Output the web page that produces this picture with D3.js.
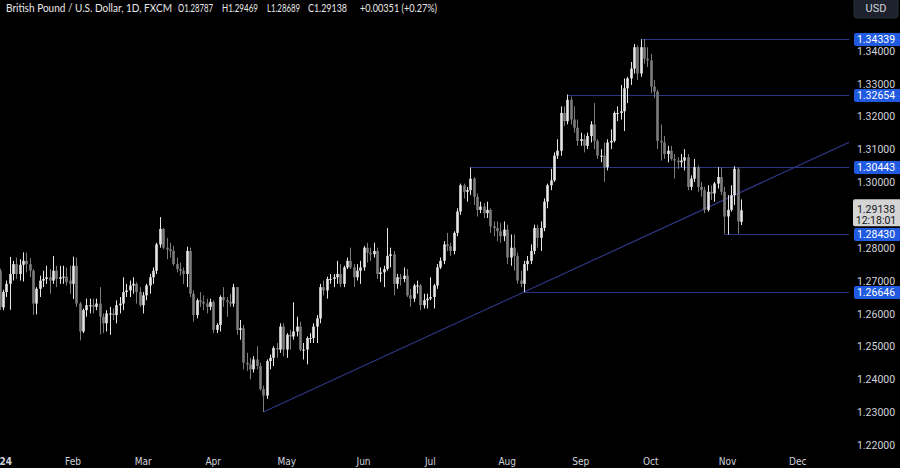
<!DOCTYPE html>
<html><head><meta charset="utf-8">
<script src="https://cdn.jsdelivr.net/npm/d3@7"></script>
<style>html,body{margin:0;padding:0;background:#000;overflow:hidden}</style>
</head><body>
<svg id="chart" width="900" height="468"></svg>
<script>
// ---------- DATA ----------
const dates = [
"2024-01-02","2024-01-03","2024-01-04","2024-01-05","2024-01-08","2024-01-09","2024-01-10","2024-01-11","2024-01-12","2024-01-15","2024-01-16","2024-01-17","2024-01-18","2024-01-19","2024-01-22","2024-01-23","2024-01-24","2024-01-25","2024-01-26","2024-01-29","2024-01-30","2024-01-31",
"2024-02-01","2024-02-02","2024-02-05","2024-02-06","2024-02-07","2024-02-08","2024-02-09","2024-02-12","2024-02-13","2024-02-14","2024-02-15","2024-02-16","2024-02-19","2024-02-20","2024-02-21","2024-02-22","2024-02-23","2024-02-26","2024-02-27","2024-02-28","2024-02-29",
"2024-03-01","2024-03-04","2024-03-05","2024-03-06","2024-03-07","2024-03-08","2024-03-11","2024-03-12","2024-03-13","2024-03-14","2024-03-15","2024-03-18","2024-03-19","2024-03-20","2024-03-21","2024-03-22","2024-03-25","2024-03-26","2024-03-27","2024-03-28","2024-03-29",
"2024-04-01","2024-04-02","2024-04-03","2024-04-04","2024-04-05","2024-04-08","2024-04-09","2024-04-10","2024-04-11","2024-04-12","2024-04-15","2024-04-16","2024-04-17","2024-04-18","2024-04-19","2024-04-22","2024-04-23","2024-04-24","2024-04-25","2024-04-26","2024-04-29","2024-04-30",
"2024-05-01","2024-05-02","2024-05-03","2024-05-06","2024-05-07","2024-05-08","2024-05-09","2024-05-10","2024-05-13","2024-05-14","2024-05-15","2024-05-16","2024-05-17","2024-05-20","2024-05-21","2024-05-22","2024-05-23","2024-05-24","2024-05-27","2024-05-28","2024-05-29","2024-05-30","2024-05-31",
"2024-06-03","2024-06-04","2024-06-05","2024-06-06","2024-06-07","2024-06-10","2024-06-11","2024-06-12","2024-06-13","2024-06-14","2024-06-17","2024-06-18","2024-06-19","2024-06-20","2024-06-21","2024-06-24","2024-06-25","2024-06-26","2024-06-27","2024-06-28",
"2024-07-01","2024-07-02","2024-07-03","2024-07-04","2024-07-05","2024-07-08","2024-07-09","2024-07-10","2024-07-11","2024-07-12","2024-07-15","2024-07-16","2024-07-17","2024-07-18","2024-07-19","2024-07-22","2024-07-23","2024-07-24","2024-07-25","2024-07-26","2024-07-29","2024-07-30","2024-07-31",
"2024-08-01","2024-08-02","2024-08-05","2024-08-06","2024-08-07","2024-08-08","2024-08-09","2024-08-12","2024-08-13","2024-08-14","2024-08-15","2024-08-16","2024-08-19","2024-08-20","2024-08-21","2024-08-22","2024-08-23","2024-08-26","2024-08-27","2024-08-28","2024-08-29","2024-08-30",
"2024-09-02","2024-09-03","2024-09-04","2024-09-05","2024-09-06","2024-09-09","2024-09-10","2024-09-11","2024-09-12","2024-09-13","2024-09-16","2024-09-17","2024-09-18","2024-09-19","2024-09-20","2024-09-23","2024-09-24","2024-09-25","2024-09-26","2024-09-27","2024-09-30",
"2024-10-01","2024-10-02","2024-10-03","2024-10-04","2024-10-07","2024-10-08","2024-10-09","2024-10-10","2024-10-11","2024-10-14","2024-10-15","2024-10-16","2024-10-17","2024-10-18","2024-10-21","2024-10-22","2024-10-23","2024-10-24","2024-10-25","2024-10-28","2024-10-29","2024-10-30","2024-10-31",
"2024-11-01","2024-11-04","2024-11-05","2024-11-06","2024-11-07"
];
const open = [
1.2730,1.2618,1.2665,1.2690,1.2720,1.2750,1.2720,1.2748,1.2760,1.2750,1.2730,1.2630,1.2675,1.2700,1.2705,1.2710,1.2700,1.2730,1.2705,1.2710,1.2712,1.2700,
1.2690,1.2745,1.2630,1.2545,1.2610,1.2625,1.2625,1.2620,1.2630,1.2590,1.2570,1.2600,1.2600,1.2595,1.2625,1.2630,1.2665,1.2670,1.2685,1.2690,1.2665,
1.2625,1.2655,1.2685,1.2710,1.2730,1.2810,1.2857,1.2800,1.2795,1.2790,1.2750,1.2735,1.2730,1.2720,1.2790,1.2660,1.2595,1.2640,1.2635,1.2630,1.2620,
1.2635,1.2550,1.2565,1.2650,1.2640,1.2635,1.2630,1.2680,1.2550,1.2555,1.2450,1.2445,1.2430,1.2460,1.2440,1.2370,1.2350,1.2455,1.2465,1.2495,1.2490,1.2560,
1.2490,1.2535,1.2530,1.2545,1.2560,1.2490,1.2490,1.2525,1.2525,1.2560,1.2585,1.2680,1.2670,1.2705,1.2705,1.2710,1.2720,1.2690,1.2740,1.2760,1.2740,1.2710,1.2730,
1.2740,1.2800,1.2785,1.2780,1.2790,1.2720,1.2725,1.2735,1.2775,1.2780,1.2690,1.2710,1.2705,1.2715,1.2655,1.2645,1.2685,1.2685,1.2625,1.2640,
1.2645,1.2650,1.2685,1.2740,1.2760,1.2810,1.2805,1.2790,1.2845,1.2910,1.2990,1.2970,1.2975,1.3010,1.2955,1.2915,1.2925,1.2905,1.2915,1.2865,1.2860,1.2850,1.2835,
1.2855,1.2770,1.2800,1.2775,1.2700,1.2690,1.2750,1.2760,1.2790,1.2860,1.2830,1.2860,1.2940,1.2990,1.3005,1.3080,1.3095,1.3210,1.3185,1.3250,1.3190,1.3165,
1.3125,1.3130,1.3110,1.3140,1.3175,1.3125,1.3080,1.3080,1.3045,1.3120,1.3125,1.3210,1.3210,1.3215,1.3285,1.3315,1.3345,1.3410,1.3330,1.3410,1.3375,
1.3370,1.3290,1.3275,1.3125,1.3120,1.3085,1.3095,1.3070,1.3065,1.3060,1.3065,1.3075,1.2985,1.3010,1.3045,1.2985,1.2975,1.2915,1.2970,1.2965,1.2995,1.3015,1.2970,
1.2895,1.2915,1.2960,1.3040,1.28787
];
const high = [
1.2736,1.2672,1.2700,1.2772,1.2760,1.2770,1.2765,1.2786,1.2785,1.2768,1.2735,1.2680,1.2715,1.2730,1.2745,1.2735,1.2775,1.2745,1.2745,1.2745,1.2740,1.2745,
1.2773,1.2770,1.2635,1.2615,1.2645,1.2645,1.2645,1.2645,1.2680,1.2600,1.2610,1.2620,1.2615,1.2640,1.2650,1.2710,1.2690,1.2700,1.2710,1.2695,1.2680,
1.2665,1.2690,1.2720,1.2740,1.2815,1.2893,1.2860,1.2830,1.2815,1.2805,1.2770,1.2755,1.2740,1.2803,1.2800,1.2670,1.2645,1.2665,1.2655,1.2645,1.2645,
1.2640,1.2570,1.2655,1.2680,1.2650,1.2660,1.2690,1.2680,1.2580,1.2565,1.2480,1.2465,1.2470,1.2500,1.2450,1.2380,1.2460,1.2475,1.2500,1.2510,1.2570,1.2570,
1.2540,1.2550,1.2634,1.2590,1.2575,1.2510,1.2530,1.2540,1.2570,1.2595,1.2690,1.2700,1.2712,1.2720,1.2720,1.2760,1.2750,1.2745,1.2770,1.2800,1.2750,1.2750,1.2760,
1.2805,1.2815,1.2800,1.2815,1.2800,1.2740,1.2745,1.2860,1.2800,1.2790,1.2720,1.2720,1.2740,1.2735,1.2675,1.2690,1.2700,1.2690,1.2660,1.2660,
1.2710,1.2690,1.2750,1.2770,1.2820,1.2845,1.2815,1.2850,1.2920,1.2995,1.2995,1.2985,1.3044,1.3015,1.2965,1.2940,1.2935,1.2940,1.2920,1.2880,1.2880,1.2875,1.2880,
1.2870,1.2840,1.2840,1.2785,1.2730,1.2760,1.2775,1.2810,1.2870,1.2870,1.2880,1.2950,1.2995,1.3040,1.3090,1.3130,1.3230,1.3230,1.3266,1.3260,1.3230,1.3190,
1.3150,1.3145,1.3150,1.3185,1.3240,1.3130,1.3100,1.3120,1.3130,1.3160,1.3215,1.3230,1.3295,1.3315,1.3320,1.3365,1.3420,1.3415,1.3434,1.3435,1.3410,
1.3390,1.3310,1.3280,1.3175,1.3140,1.3110,1.3110,1.3085,1.3075,1.3085,1.3100,1.3085,1.3020,1.3070,1.3050,1.3000,1.2985,1.2990,1.2990,1.3000,1.3045,1.3044,1.2985,
1.2960,1.2990,1.3048,1.3045,1.29469
];
const low = [
1.2610,1.2610,1.2650,1.2611,1.2700,1.2705,1.2700,1.2697,1.2725,1.2710,1.2596,1.2597,1.2650,1.2680,1.2690,1.2660,1.2690,1.2680,1.2690,1.2690,1.2685,1.2660,
1.2644,1.2620,1.2518,1.2540,1.2590,1.2600,1.2600,1.2610,1.2536,1.2540,1.2545,1.2535,1.2580,1.2570,1.2600,1.2610,1.2650,1.2650,1.2660,1.2630,1.2620,
1.2600,1.2640,1.2660,1.2690,1.2720,1.2800,1.2795,1.2765,1.2770,1.2745,1.2725,1.2715,1.2690,1.2680,1.2650,1.2575,1.2585,1.2620,1.2610,1.2600,1.2610,
1.2540,1.2540,1.2545,1.2620,1.2590,1.2620,1.2620,1.2535,1.2520,1.2430,1.2425,1.2400,1.2420,1.2430,1.2365,1.2300,1.2340,1.2430,1.2440,1.2465,1.2480,1.2470,
1.2465,1.2490,1.2520,1.2530,1.2485,1.2460,1.2445,1.2510,1.2510,1.2510,1.2570,1.2655,1.2645,1.2690,1.2680,1.2690,1.2680,1.2680,1.2735,1.2735,1.2680,1.2700,1.2690,
1.2730,1.2755,1.2760,1.2770,1.2705,1.2695,1.2680,1.2730,1.2740,1.2655,1.2675,1.2685,1.2695,1.2650,1.2620,1.2635,1.2660,1.2610,1.2615,1.2615,
1.2640,1.2615,1.2675,1.2735,1.2750,1.2790,1.2775,1.2780,1.2835,1.2900,1.2950,1.2940,1.2960,1.2930,1.2895,1.2905,1.2890,1.2890,1.2845,1.2835,1.2820,1.2815,1.2820,
1.2750,1.2745,1.2730,1.2690,1.2680,1.2665,1.2730,1.2750,1.2780,1.2800,1.2790,1.2850,1.2920,1.2975,1.3000,1.3070,1.3080,1.3170,1.3175,1.3175,1.3150,1.3110,
1.3110,1.3090,1.3100,1.3120,1.3100,1.3070,1.3060,1.3000,1.3035,1.3100,1.3120,1.3185,1.3190,1.3155,1.3240,1.3295,1.3330,1.3310,1.3320,1.3360,1.3350,
1.3270,1.3255,1.3100,1.3065,1.3070,1.3060,1.3065,1.3010,1.3040,1.3045,1.3035,1.2975,1.2975,1.3000,1.2970,1.2955,1.2905,1.2910,1.2945,1.2940,1.2980,1.2960,1.2843,
1.2840,1.2910,1.2930,1.2843,1.28689
];
const close = [
1.2620,1.2665,1.2690,1.2720,1.2750,1.2720,1.2748,1.2760,1.2750,1.2730,1.2630,1.2675,1.2700,1.2705,1.2710,1.2700,1.2730,1.2705,1.2710,1.2712,1.2695,1.2690,
1.2745,1.2630,1.2545,1.2610,1.2625,1.2625,1.2620,1.2630,1.2590,1.2570,1.2600,1.2600,1.2595,1.2625,1.2630,1.2665,1.2670,1.2685,1.2690,1.2665,1.2625,
1.2655,1.2685,1.2710,1.2730,1.2810,1.2857,1.2800,1.2795,1.2790,1.2750,1.2735,1.2730,1.2720,1.2790,1.2660,1.2595,1.2640,1.2635,1.2630,1.2620,1.2635,
1.2550,1.2565,1.2650,1.2640,1.2635,1.2630,1.2680,1.2550,1.2555,1.2450,1.2445,1.2430,1.2460,1.2440,1.2370,1.2350,1.2455,1.2465,1.2495,1.2490,1.2560,1.2490,
1.2535,1.2530,1.2545,1.2560,1.2490,1.2490,1.2525,1.2525,1.2560,1.2585,1.2680,1.2670,1.2705,1.2705,1.2710,1.2720,1.2690,1.2740,1.2760,1.2740,1.2710,1.2730,1.2740,
1.2800,1.2785,1.2780,1.2790,1.2720,1.2725,1.2735,1.2775,1.2780,1.2690,1.2710,1.2705,1.2715,1.2655,1.2645,1.2685,1.2685,1.2625,1.2640,1.2645,
1.2650,1.2685,1.2740,1.2760,1.2810,1.2805,1.2790,1.2845,1.2910,1.2990,1.2970,1.2975,1.3010,1.2955,1.2915,1.2925,1.2905,1.2915,1.2865,1.2860,1.2850,1.2835,1.2855,
1.2770,1.2800,1.2775,1.2700,1.2690,1.2750,1.2760,1.2790,1.2860,1.2830,1.2860,1.2940,1.2990,1.3005,1.3080,1.3095,1.3210,1.3185,1.3250,1.3190,1.3165,1.3125,
1.3130,1.3110,1.3140,1.3175,1.3125,1.3080,1.3080,1.3045,1.3120,1.3125,1.3210,1.3210,1.3215,1.3285,1.3315,1.3345,1.3410,1.3330,1.3410,1.3375,1.3370,
1.3290,1.3275,1.3125,1.3120,1.3085,1.3095,1.3070,1.3065,1.3060,1.3065,1.3075,1.2985,1.3010,1.3045,1.2985,1.2975,1.2915,1.2970,1.2965,1.2995,1.3015,1.2970,1.2895,
1.2915,1.2960,1.3040,1.2880,1.29138
];
const priceTicks = [1.22,1.23,1.24,1.25,1.26,1.27,1.28,1.29,1.30,1.31,1.32,1.33,1.34];
const timeTickDates = ["2024-01-02","2024-02-01","2024-03-01","2024-04-01","2024-05-01","2024-06-03","2024-07-01","2024-08-01","2024-09-02","2024-10-01","2024-11-01","2024-12-02"];
const timeTickLabels = ["2024","Feb","Mar","Apr","May","Jun","Jul","Aug","Sep","Oct","Nov","Dec"];
const levelPrices = [1.34339,1.32654,1.30443,1.28430,1.26646];
const levelStartDates = ["2024-09-26","2024-08-27","2024-07-17","2024-10-31","2024-08-08"];
const trendDates = ["2024-04-22","2024-08-08"];
const trendPrices = [1.2300,1.2665];
const lastPrice = 1.29138;
const countdown = "12:18:01";
const titleParts = ["British Pound / U.S. Dollar, 1D, FXCM","O1.28787","H1.29469","L1.28689","C1.29138","+0.00351 (+0.27%)"];

// ---------- LAYOUT ----------
const W = 900, H = 468, plotR = 849, plotB = 450;
const parse = d3.timeParse("%Y-%m-%d");
const d0 = parse(dates[0]);
const idxOf = s => d3.timeDays(d0, parse(s)).filter(d => d.getDay() % 6 !== 0).length;
const x = d3.scaleLinear().domain([0, 222]).range([-0.5, -0.5 + 222 * 3.34]);
const y = d3.scaleLinear().domain([1.22, 1.34]).range([444.9, 50.5]);

const svg = d3.select("#chart");
svg.append("rect").attr("width", W).attr("height", H).attr("fill", "#000");
svg.append("defs").append("clipPath").attr("id", "plot")
  .append("rect").attr("x", 0).attr("y", 0).attr("width", plotR).attr("height", plotB);

const g = svg.append("g").attr("clip-path", "url(#plot)");
const lineColor = "#2d3680";

// horizontal levels
levelPrices.forEach((p, k) => {
  g.append("line").attr("x1", x(idxOf(levelStartDates[k]))).attr("x2", plotR + 6)
    .attr("y1", Math.round(y(p)) + 0.5).attr("y2", Math.round(y(p)) + 0.5)
    .attr("stroke", lineColor).attr("stroke-width", 1.2);
});
// trend line (ray)
const ti0 = idxOf(trendDates[0]), ti1 = idxOf(trendDates[1]);
const slope = (trendPrices[1] - trendPrices[0]) / (ti1 - ti0);
const tEnd = x.invert(plotR);
g.append("line").attr("x1", x(ti0)).attr("y1", y(trendPrices[0]))
  .attr("x2", x(tEnd)).attr("y2", y(trendPrices[0] + slope * (tEnd - ti0)))
  .attr("stroke", lineColor).attr("stroke-width", 1.2);

// candles
const upC = "#e6e6e6", dnC = "#7c7c7c";
const data = dates.map((d, i) => ({i, o: open[i], h: high[i], l: low[i], c: close[i]}));
const cg = g.append("g");
cg.selectAll("line.wick").data(data).join("line").attr("class", "wick")
  .attr("x1", d => Math.round(x(d.i)) + 0.5).attr("x2", d => Math.round(x(d.i)) + 0.5)
  .attr("y1", d => y(d.h)).attr("y2", d => y(d.l))
  .attr("stroke", d => d.c >= d.o ? upC : dnC).attr("stroke-width", 1);
cg.selectAll("rect.body").data(data).join("rect").attr("class", "body")
  .attr("x", d => Math.round(x(d.i)) - 0.8).attr("width", 2.6)
  .attr("y", d => y(Math.max(d.o, d.c)))
  .attr("height", d => Math.max(1, Math.abs(y(d.o) - y(d.c))))
  .attr("fill", d => d.c >= d.o ? upC : dnC);

// price axis labels (hide those covered by the last-price tag)
const axisFont = "Roboto, 'Noto Sans', sans-serif";
const ly = y(lastPrice);
const boxTop = ly - 11, boxBot = ly + 16;
svg.append("g").selectAll("text")
  .data(priceTicks.filter(t => y(t) + 6 < boxTop || y(t) - 6 > boxBot)).join("text")
  .attr("x", 876).attr("y", d => y(d) + 0.5).attr("dy", "0.35em")
  .attr("text-anchor", "middle").attr("fill", "#d1d4dc")
  .attr("font-family", axisFont).attr("font-size", 10.5)
  .text(d => d3.format(".5f")(d));

// level labels
const lab = svg.append("g");
levelPrices.forEach(p => {
  const yy = Math.round(y(p)) + 0.5;
  lab.append("rect").attr("x", 854).attr("y", yy - 6.5).attr("width", 50).attr("height", 13)
    .attr("rx", 2).attr("fill", "#1f5ae0");
  lab.append("text").attr("x", 876).attr("y", yy).attr("dy", "0.35em").attr("text-anchor", "middle")
    .attr("fill", "#ffffff").attr("font-family", axisFont).attr("font-size", 10.5).text(d3.format(".5f")(p));
});
// last price label
lab.append("rect").attr("x", 853).attr("y", boxTop).attr("width", 50).attr("height", boxBot - boxTop)
  .attr("rx", 2).attr("fill", "#d4d4d4");
lab.append("text").attr("x", 876).attr("y", ly - 1).attr("dy", "0.35em").attr("text-anchor", "middle")
  .attr("fill", "#131722").attr("font-family", axisFont).attr("font-size", 10.5).text(d3.format(".5f")(lastPrice));
lab.append("text").attr("x", 876).attr("y", ly + 10.5).attr("dy", "0.35em").attr("text-anchor", "middle")
  .attr("fill", "#131722").attr("font-family", axisFont).attr("font-size", 10.5).text(countdown);

// USD box
svg.append("rect").attr("x", 854).attr("y", -4).attr("width", 44).attr("height", 22).attr("rx", 3)
  .attr("fill", "#1e222d").attr("stroke", "#2a2e39");
svg.append("text").attr("x", 876).attr("y", 8.5).attr("dy", "0.35em").attr("text-anchor", "middle")
  .attr("fill", "#d1d4dc").attr("font-family", axisFont).attr("font-size", 11).text("USD");

// time axis
svg.append("g").selectAll("text").data(timeTickDates).join("text")
  .attr("x", d => x(idxOf(d))).attr("y", 461).attr("dy", "0.35em").attr("text-anchor", "middle")
  .attr("fill", "#d1d4dc").attr("font-family", "'DejaVu Sans Condensed', 'Liberation Sans Narrow', sans-serif")
  .attr("font-size", 10).attr("font-weight", (d, k) => k === 0 ? "bold" : "normal")
  .text((d, k) => timeTickLabels[k]);

// title (each part fitted to the width it takes in the reference)
const tx = [6, 178, 222, 267, 308, 360];
const tw = [166, 35, 36, 33, 39, 77];
svg.append("g").selectAll("text").data(titleParts).join("text")
  .attr("x", (d, k) => tx[k]).attr("y", 8).attr("dy", "0.35em")
  .attr("textLength", (d, k) => tw[k]).attr("lengthAdjust", "spacingAndGlyphs")
  .attr("fill", "#e8e8e8").attr("font-family", "Lato, 'Noto Sans', sans-serif").attr("font-size", 10.5)
  .text(d => d);
</script>
</body></html>
